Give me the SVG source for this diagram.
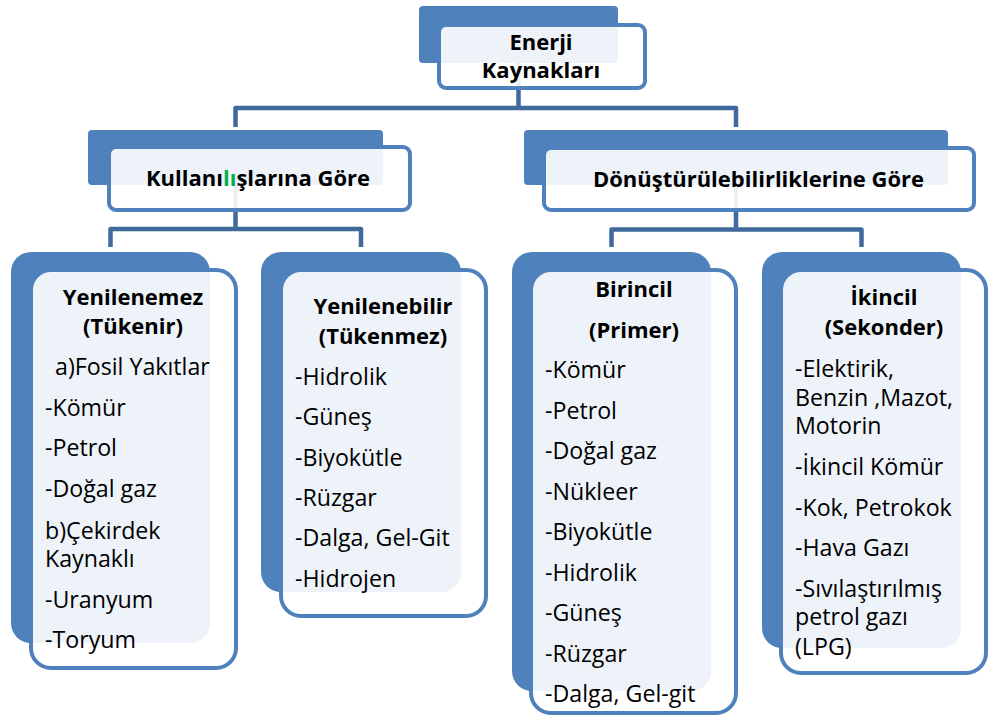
<svg xmlns="http://www.w3.org/2000/svg" width="988" height="717" viewBox="0 0 988 717">
<style>
.back{fill:#4F81BD}
.front{fill:#FFFFFF;fill-opacity:0.9;stroke:#4F81BD;stroke-width:4}
.conn{fill:none;stroke:#40699C;stroke-width:4.5;stroke-linejoin:round}
text{font-family:"Open Sans","Noto Sans","DejaVu Sans",sans-serif;fill:#000}
.b{font-weight:bold;font-size:22px;text-anchor:middle}
.r{font-size:23.2px}
</style>
<rect width="988" height="717" fill="#FFFFFF"/>
<g id="connectors">
<path class="conn" d="M518.5,63 V108 M235.5,127 V108 H736 V127"/>
<path class="conn" d="M235.5,185 V229 M110.5,247 V229 H361 V247"/>
<path class="conn" d="M736,185 V229.5 M611.5,247 V229.5 H861.5 V247"/>
</g>
<g id="n-enerji">
<rect class="back" x="419" y="6" width="199" height="57" rx="4"/>
<rect class="front" x="439" y="25" width="206" height="63" rx="7"/>
<text class="b" x="541" y="50">Enerji</text>
<text class="b" x="541" y="78">Kaynakları</text>
</g>
<g id="n-kullanilis">
<rect class="back" x="88" y="130" width="295" height="55" rx="4"/>
<rect class="front" x="109" y="147" width="301" height="63" rx="7"/>
<text class="b" x="258" y="186">Kullanı<tspan fill="#00B050">lı</tspan>şlarına Göre</text>
</g>
<g id="n-donusturulebilir">
<rect class="back" x="524" y="130" width="424" height="55" rx="4"/>
<rect class="front" x="544" y="148" width="430" height="62" rx="7"/>
<text class="b" x="758.5" y="187">Dönüştürülebilirliklerine Göre</text>
</g>
<g id="n-yenilenemez">
<rect class="back" x="11" y="252" width="199" height="391" rx="20"/>
<rect class="front" x="31" y="270" width="205" height="398" rx="20"/>
<text class="b" x="133" y="305">Yenilenemez</text>
<text class="b" x="133" y="334">(Tükenir)</text>
<text class="r" x="55" y="375">a)Fosil Yakıtlar</text>
<text class="r" x="45" y="416">-Kömür</text>
<text class="r" x="45" y="456">-Petrol</text>
<text class="r" x="45" y="497">-Doğal gaz</text>
<text class="r" x="45" y="539">b)Çekirdek</text>
<text class="r" x="45" y="567">Kaynaklı</text>
<text class="r" x="45" y="608">-Uranyum</text>
<text class="r" x="45" y="648">-Toryum</text>
</g>
<g id="n-yenilenebilir">
<rect class="back" x="261" y="252" width="200" height="340" rx="20"/>
<rect class="front" x="281" y="270" width="205" height="346" rx="20"/>
<text class="b" x="383" y="314">Yenilenebilir</text>
<text class="b" x="383" y="344">(Tükenmez)</text>
<text class="r" x="295" y="385">-Hidrolik</text>
<text class="r" x="295" y="425">-Güneş</text>
<text class="r" x="295" y="465.5">-Biyokütle</text>
<text class="r" x="295" y="506">-Rüzgar</text>
<text class="r" x="295" y="546">-Dalga, Gel-Git</text>
<text class="r" x="295" y="586.5">-Hidrojen</text>
</g>
<g id="n-birincil">
<rect class="back" x="512" y="252" width="199" height="439" rx="20"/>
<rect class="front" x="531" y="270" width="205" height="443" rx="20"/>
<text class="b" x="634" y="297">Birincil</text>
<text class="b" x="634" y="338">(Primer)</text>
<text class="r" x="545" y="378">-Kömür</text>
<text class="r" x="545" y="418.5">-Petrol</text>
<text class="r" x="545" y="459">-Doğal gaz</text>
<text class="r" x="545" y="499.5">-Nükleer</text>
<text class="r" x="545" y="540">-Biyokütle</text>
<text class="r" x="545" y="580.5">-Hidrolik</text>
<text class="r" x="545" y="621">-Güneş</text>
<text class="r" x="545" y="661.5">-Rüzgar</text>
<text class="r" x="545" y="702">-Dalga, Gel-git</text>
</g>
<g id="n-ikincil">
<rect class="back" x="762" y="252" width="199" height="396" rx="20"/>
<rect class="front" x="781" y="270" width="205" height="403" rx="20"/>
<text class="b" x="884" y="305">İkincil</text>
<text class="b" x="884" y="335">(Sekonder)</text>
<text class="r" x="795" y="377">-Elektirik,</text>
<text class="r" x="795" y="405.5">Benzin ,Mazot,</text>
<text class="r" x="795" y="434">Motorin</text>
<text class="r" x="795" y="475">-İkincil Kömür</text>
<text class="r" x="795" y="515.5">-Kok, Petrokok</text>
<text class="r" x="795" y="556">-Hava Gazı</text>
<text class="r" x="795" y="596.5">-Sıvılaştırılmış</text>
<text class="r" x="795" y="625">petrol gazı</text>
<text class="r" x="795" y="655">(LPG)</text>
</g>
</svg>
